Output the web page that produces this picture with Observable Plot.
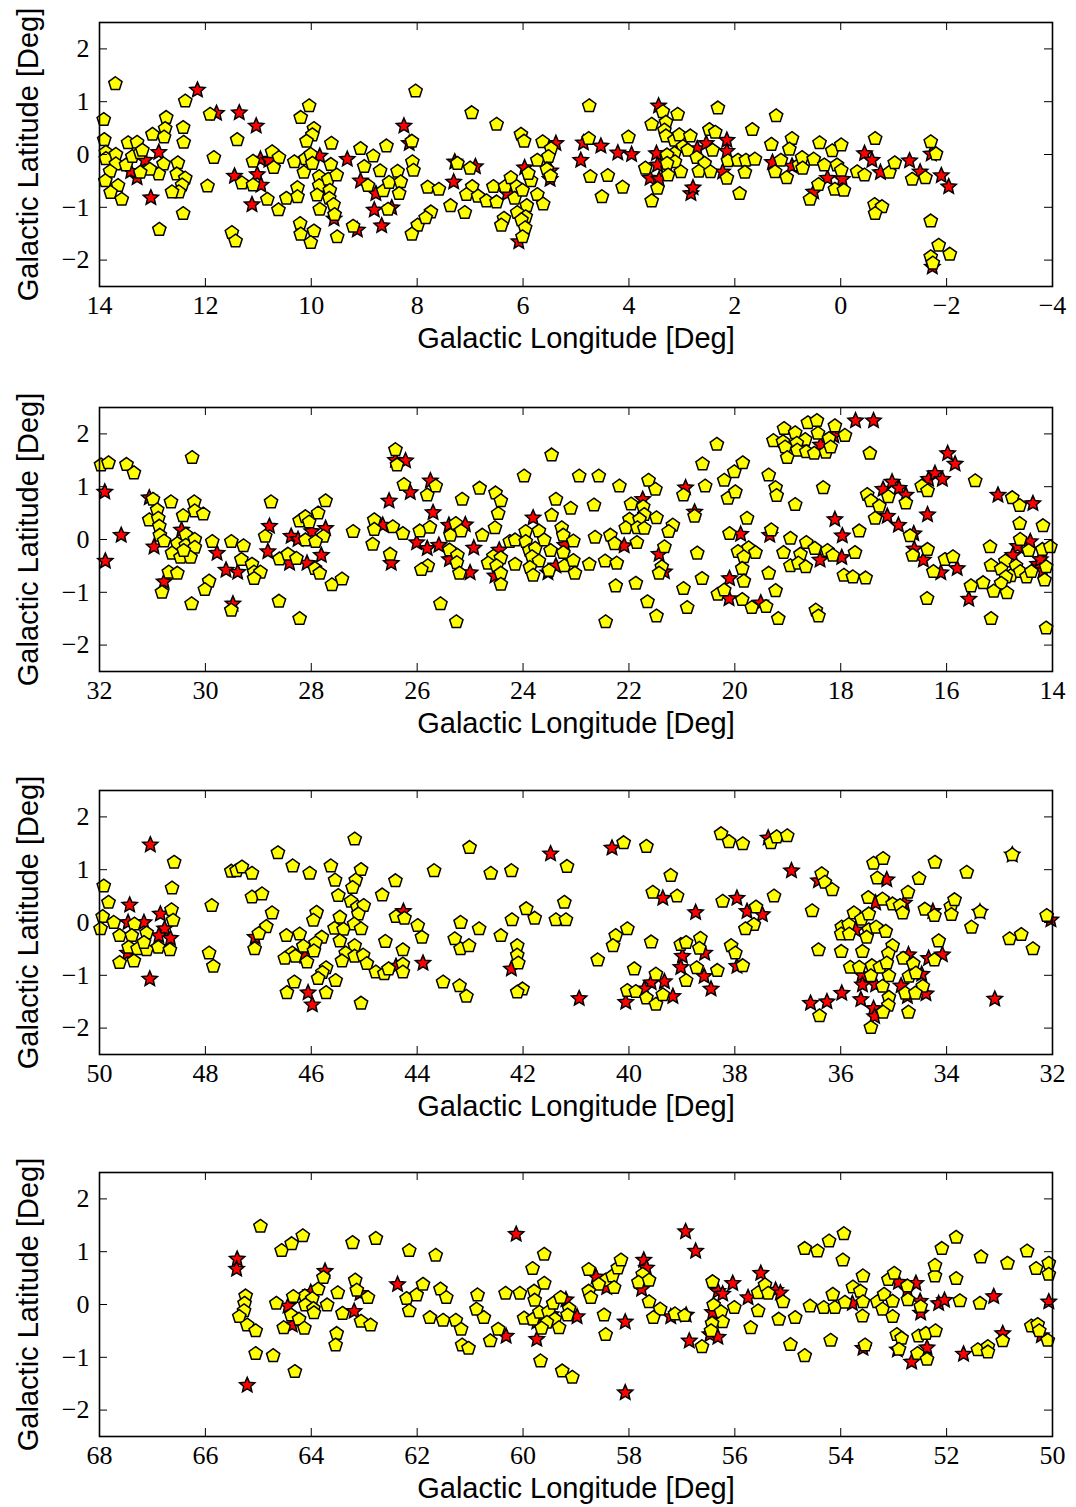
<!DOCTYPE html>
<html><head><meta charset="utf-8">
<script src="https://cdn.jsdelivr.net/npm/d3@7"></script>
<script src="https://cdn.jsdelivr.net/npm/@observablehq/plot@0.6"></script>
<style>
body{margin:0;background:#fff;}
#chart svg{display:block;}
</style></head><body><div id="chart"></div>
<script>
const xLabel = "Galactic Longitude [Deg]";
const yLabel = "Galactic Latitude [Deg]";
const yTicks = [-2, -1, 0, 1, 2];
const p1Domain = [14, -4], p2Domain = [32, 14], p3Domain = [50, 32], p4Domain = [68, 50];
const p1Ticks = [14, 12, 10, 8, 6, 4, 2, 0, -2, -4];
const p2Ticks = [32, 30, 28, 26, 24, 22, 20, 18, 16, 14];
const p3Ticks = [50, 48, 46, 44, 42, 40, 38, 36, 34, 32];
const p4Ticks = [68, 66, 64, 62, 60, 58, 56, 54, 52, 50];

// [longitude, latitude]
const p1Yellow = [[13.70,1.34],[12.38,1.01],[13.92,0.66],[11.91,0.76],[12.74,0.70],[12.76,0.49],[12.78,0.33],[13.00,0.38],[12.42,0.51],[12.41,0.23],[13.91,0.28],[13.46,0.22],[13.29,0.23],[13.88,0.04],[13.88,-0.08],[13.69,0.00],[13.69,-0.18],[13.50,-0.20],[13.38,-0.04],[13.23,0.03],[13.19,0.08],[12.79,-0.18],[12.88,-0.37],[13.05,-0.28],[13.23,-0.34],[13.80,-0.32],[13.89,-0.50],[13.65,-0.59],[13.79,-0.72],[13.58,-0.85],[12.52,-0.16],[12.54,-0.37],[12.38,-0.45],[12.44,-0.58],[12.50,-0.71],[12.63,-0.71],[12.42,-1.12],[12.87,-1.42],[11.84,-0.06],[11.96,-0.60],[11.40,0.28],[11.31,-0.54],[11.10,-0.13],[11.10,-0.58],[10.83,-0.85],[10.74,0.05],[10.61,-0.06],[10.71,-0.25],[10.62,-1.05],[10.47,-0.83],[10.26,-0.63],[10.26,-0.80],[11.50,-1.48],[11.43,-1.64],[10.32,-0.14],[10.14,-0.34],[10.11,-0.08],[10.01,0.00],[9.98,-0.17],[10.20,0.70],[10.04,0.92],[9.95,0.49],[9.98,0.37],[10.09,0.25],[9.85,-0.42],[9.85,-0.59],[9.68,-0.47],[9.65,-0.68],[9.66,-0.83],[9.89,-0.77],[9.84,-1.04],[9.58,-0.95],[9.56,-1.14],[9.63,-0.19],[9.62,0.21],[9.52,-0.39],[10.21,-1.31],[10.20,-1.51],[9.95,-1.45],[10.01,-1.67],[9.51,-1.56],[9.07,0.11],[8.83,-0.03],[9.00,-0.23],[8.58,0.16],[8.93,-0.59],[8.64,-0.69],[8.70,-0.31],[8.37,-0.32],[8.53,-0.53],[8.31,-0.52],[8.34,-0.74],[8.55,-1.04],[9.21,-1.36],[8.10,0.25],[8.09,-0.14],[8.07,-0.30],[7.99,-1.34],[8.10,-1.51],[8.03,1.20],
[6.97,0.79],[6.50,0.57],[4.75,0.92],[6.04,0.38],[5.98,0.25],[5.63,0.24],[5.47,0.11],[5.73,-0.11],[5.52,-0.04],[5.55,-0.28],[5.48,-0.41],[5.85,-0.50],[5.90,-0.36],[7.24,-0.17],[7.00,-0.26],[7.80,-0.62],[7.59,-0.66],[6.96,-0.61],[7.07,-0.76],[6.85,-0.79],[6.69,-0.88],[6.56,-0.61],[6.50,-0.90],[6.34,-0.61],[6.23,-0.44],[6.12,-0.61],[6.16,-0.83],[6.01,-0.68],[5.73,-0.76],[5.62,-0.94],[5.93,-0.97],[7.37,-0.97],[7.10,-1.10],[7.74,-1.09],[7.84,-1.20],[6.11,-1.10],[5.95,-1.18],[6.03,-1.24],[6.36,-1.21],[6.41,-1.34],[5.96,-1.39],[6.01,-1.56],[4.76,0.30],[4.73,-0.42],[4.40,-0.40],[4.51,-0.80],[4.12,-0.62],[4.01,0.33],[3.57,0.57],[3.36,0.81],[3.08,0.76],[3.30,0.61],[3.33,0.46],[3.30,0.35],[3.14,0.27],[3.05,0.37],[2.84,0.35],[2.98,0.15],[3.14,0.02],[3.28,-0.01],[3.13,-0.14],[3.28,-0.17],[3.69,-0.26],[3.26,-0.39],[3.02,-0.33],[3.46,-0.64],[3.57,-0.88],[2.89,0.08],[2.72,-0.06],[2.57,-0.17],[2.68,-0.32],[2.46,-0.33],[2.48,0.47],[2.37,0.42],[2.42,0.08],[2.32,0.88],[2.13,-0.12],[2.15,-0.45],[1.94,-0.11],[1.91,-0.74],
[1.22,0.73],[1.67,0.47],[1.31,0.19],[0.92,0.30],[0.97,0.10],[1.13,-0.11],[1.24,-0.33],[1.02,-0.44],[0.79,-0.20],[0.73,-0.06],[0.72,-0.26],[1.79,-0.11],[1.62,-0.09],[1.81,-0.34],[0.51,-0.09],[0.40,0.22],[0.31,-0.20],[0.16,0.07],[-0.01,0.18],[0.07,-0.20],[-0.01,-0.30],[0.11,-0.66],[-0.06,-0.68],[0.42,-0.57],[0.58,-0.85],[-0.31,-0.33],[-0.45,-0.39],[-0.65,0.30],[-0.92,-0.34],[-1.02,-0.16],[-0.64,-0.95],[-0.78,-0.99],[-0.65,-1.12],[-1.35,-0.47],[-1.60,-0.44],[-1.70,0.24],[-1.80,0.01],[-1.70,-1.26],[-1.85,-1.72],[-2.06,-1.89],[-1.70,-1.94],[-1.74,-2.06]];
const p1Red = [[12.15,1.22],[11.79,0.78],[11.36,0.79],[11.04,0.54],[13.14,-0.11],[12.88,0.04],[13.29,-0.44],[13.41,-0.32],[13.03,-0.82],[11.45,-0.41],[11.02,-0.38],[10.96,-0.09],[10.95,-0.58],[11.12,-0.95],[10.80,-0.11],[9.57,-1.22],[9.84,-0.03],[9.32,-0.09],[9.07,-0.50],[8.78,-0.74],[8.81,-1.05],[8.67,-1.35],[8.48,-1.01],[9.13,-1.43],[8.25,0.54],[8.15,0.21],
[5.38,0.21],[5.48,-0.31],[5.49,-0.47],[5.97,-0.25],[7.29,-0.14],[6.90,-0.23],[7.31,-0.52],[6.30,-0.74],[6.08,-1.65],[4.91,-0.11],[4.86,0.22],[4.53,0.16],[4.21,0.03],[3.95,0.00],[3.44,0.92],[3.48,0.02],[3.46,-0.20],[3.60,-0.45],[3.43,-0.47],[2.83,-0.74],[2.79,-0.63],[2.71,0.11],[2.54,0.21],[2.15,0.27],[2.15,0.06],[2.23,-0.33],
[1.29,-0.15],[0.92,-0.22],[0.25,-0.45],[-0.03,-0.47],[0.51,-0.71],[-0.45,0.02],[-0.59,-0.11],[-0.75,-0.34],[-1.30,-0.12],[-1.50,-0.33],[-1.71,0.01],[-1.90,-0.40],[-2.04,-0.61],[-1.73,-2.13]];

const p2Yellow = [[31.97,1.41],[31.83,1.45],[31.49,1.42],[31.35,1.26],[30.25,1.55],[30.99,0.76],[30.65,0.71],[30.91,0.56],[30.21,0.71],[30.20,0.54],[30.04,0.48],[30.42,0.45],[31.06,0.37],[30.89,0.40],[30.87,0.25],[30.86,0.08],[30.78,-0.03],[30.37,0.09],[30.53,-0.08],[30.37,-0.11],[30.20,0.00],[30.20,-0.15],[30.63,-0.26],[30.47,-0.34],[30.28,-0.34],[30.41,-0.21],[30.69,-0.62],[30.53,-0.64],[30.82,-1.00],[30.26,-1.22],[29.87,-0.04],[29.51,-0.04],[29.28,-0.12],[29.32,-0.38],[29.12,-0.47],[29.08,-0.62],[28.96,-0.62],[29.08,-0.74],[29.93,-0.79],[30.01,-0.95],[29.51,-1.34],[28.87,0.06],[28.76,0.71],[28.60,-0.37],[28.44,-0.28],[28.28,-0.36],[28.22,0.35],[28.11,-0.01],[28.11,0.43],[28.04,0.33],[27.87,0.50],[27.73,0.73],[27.77,0.06],[27.92,-0.04],[27.93,-0.55],[27.84,-0.64],[27.61,-0.86],[27.42,-0.75],[28.61,-1.17],[28.22,-1.50],[27.21,0.15],[26.81,0.37],[26.81,0.19],[26.84,-0.09],[26.46,0.24],[26.27,0.11],[26.51,-0.28],[26.41,1.70],[26.38,1.41],[26.25,1.04],
[25.65,1.01],[25.81,0.84],[25.15,0.76],[24.82,0.97],[24.52,0.88],[24.42,0.73],[24.47,0.49],[24.53,0.22],[23.98,1.20],[23.46,1.60],[23.38,0.76],[23.10,0.59],[23.46,0.46],[22.94,1.20],[22.57,1.20],[22.66,0.65],[22.18,1.01],[25.95,0.16],[25.76,0.23],[25.37,0.08],[25.27,0.30],[25.17,0.16],[25.39,-0.20],[25.24,-0.30],[25.25,-0.44],[25.20,-0.64],[25.80,-0.50],[25.92,-0.57],[25.56,-1.22],[25.26,-1.56],[24.77,0.08],[24.25,-0.04],[24.15,-0.01],[24.56,-0.32],[24.42,-0.35],[24.66,-0.45],[24.50,-0.50],[24.42,-0.64],[24.42,-0.85],[24.15,-0.47],[23.95,0.15],[23.70,0.16],[23.95,-0.04],[23.88,-0.21],[23.77,-0.17],[23.60,-0.01],[23.83,-0.33],[23.70,-0.41],[23.87,-0.53],[23.81,-0.68],[23.51,-0.59],[23.48,-0.21],[23.27,0.22],[23.24,0.08],[23.24,-0.25],[23.05,-0.03],[23.22,-0.50],[23.05,-0.40],[23.02,-0.64],[22.75,-0.47],[22.64,0.04],[22.45,-0.41],[22.35,0.08],[22.27,-0.08],[22.23,-0.45],[21.85,-0.06],[22.25,-0.88],[21.87,-0.83],[22.44,-1.56],[21.65,-1.18],[21.48,-1.45],[21.96,0.67],[21.73,0.62],[21.71,0.47],[21.99,0.38],[21.80,0.38],[22.06,0.22],[21.84,0.22],[21.71,0.21],[21.48,0.41],[21.63,1.12],[21.50,0.95],[21.17,0.27],[21.25,0.15],[21.33,-0.14],[21.38,-0.52],[21.43,-0.64],[20.97,0.84],[20.61,1.43],[20.34,1.80],[20.56,1.01],[20.76,0.44],[20.71,-0.26],[20.62,-0.74],[20.97,-0.93],[20.90,-1.29],[20.20,1.12],[20.01,1.28],[20.13,0.78],[20.10,0.11],[20.32,-1.04],[20.20,-0.96],
[19.85,1.45],[19.99,0.90],[19.27,1.87],[19.07,2.10],[18.62,2.21],[18.45,2.25],[18.11,2.15],[17.92,1.97],[19.09,1.85],[18.86,2.02],[18.67,1.89],[18.43,2.01],[18.22,1.91],[18.83,1.82],[19.05,1.75],[18.82,1.69],[18.65,1.66],[18.50,1.63],[18.28,1.65],[18.19,1.75],[19.01,1.55],[17.45,1.63],[19.36,1.22],[19.23,0.98],[19.21,0.83],[18.86,0.66],[18.33,0.98],[19.77,0.40],[19.31,0.18],[18.95,0.02],[19.08,-0.25],[18.76,-0.28],[18.65,-0.06],[18.49,-0.17],[18.95,-0.50],[18.80,-0.45],[18.66,-0.52],[18.25,-0.21],[18.15,-0.30],[17.73,-0.25],[17.65,0.16],[17.94,-0.68],[17.77,-0.71],[17.53,-0.73],[19.94,-0.23],[19.74,-0.16],[19.61,-0.25],[19.83,-0.33],[19.86,-0.55],[19.83,-0.79],[19.86,-1.14],[19.68,-1.29],[19.41,-1.27],[19.36,-0.64],[19.23,-0.97],[19.18,-1.50],[18.47,-1.34],[18.42,-1.45],[17.50,0.85],[17.43,0.73],[17.10,0.81],[16.77,0.69],[17.27,0.63],[17.35,0.40],[16.69,0.07],[16.47,1.01],[16.36,0.92],[15.46,1.11],[16.64,-0.30],[16.36,-0.19],[16.25,-0.61],[16.03,-0.38],[15.88,-0.33],[16.37,-1.12],[15.54,-0.88],[15.31,-0.82],[15.16,-1.50],[14.12,-1.68],[14.76,0.79],[14.62,0.64],[14.62,0.30],[14.18,0.26],[15.18,-0.14],[14.61,0.00],[14.45,-0.21],[14.19,-0.19],[14.04,-0.14],[14.89,-0.41],[15.16,-0.49],[14.97,-0.56],[14.69,-0.50],[14.79,-0.69],[14.88,-0.71],[14.97,-0.83],[15.11,-0.98],[14.86,-1.01],[14.61,-0.61],[14.49,-0.71],[14.40,-0.61],[14.12,-0.52],[14.15,-0.77]];
const p2Red = [[31.90,0.90],[31.59,0.08],[31.89,-0.41],[31.06,0.79],[30.97,-0.14],[30.45,0.18],[30.78,-0.80],[29.78,-0.26],[29.61,-0.58],[29.39,-0.62],[29.48,-1.22],[28.79,0.25],[28.82,-0.23],[28.41,-0.45],[28.38,0.06],[28.25,0.00],[27.99,0.15],[27.73,0.21],[28.08,-0.45],[27.81,-0.30],[26.65,0.27],[26.49,-0.45],[26.53,0.73],[26.41,1.50],[26.22,1.49],[26.13,0.89],[26.01,-0.06],
[25.75,1.11],[25.70,0.51],[25.81,-0.17],[25.59,-0.11],[25.09,0.28],[25.40,0.27],[24.93,-0.16],[25.39,-0.38],[25.00,-0.63],[24.45,-0.20],[24.53,-0.69],[23.81,0.41],[23.53,-0.63],[23.38,-0.50],[23.21,-0.11],[22.09,-0.12],[21.74,0.76],[21.43,-0.28],[21.33,-0.61],[20.93,0.98],[20.76,0.52],[20.10,-0.74],[20.11,-1.12],
[18.38,1.79],[18.13,1.96],[17.72,2.25],[17.38,2.25],[19.89,0.10],[19.34,0.08],[18.39,-0.39],[17.98,-0.34],[18.11,0.38],[17.97,0.07],[19.51,-1.20],[17.20,0.95],[17.03,1.09],[16.90,0.97],[16.77,0.84],[17.12,0.44],[16.91,0.27],[16.62,0.11],[16.34,1.14],[16.22,1.25],[16.08,1.14],[15.98,1.63],[15.84,1.43],[16.36,0.47],[16.61,-0.18],[16.44,-0.39],[16.11,-0.63],[15.80,-0.55],[15.58,-1.13],[15.03,0.84],[14.37,0.68],[14.66,-0.13],[14.42,-0.04],[14.75,-0.30],[14.28,-0.47],[14.18,-0.59],[14.23,-0.38]];

const p3Yellow = [[48.59,1.14],[48.63,0.65],[49.92,0.69],[49.83,0.38],[48.64,0.24],[48.61,0.04],[49.94,0.11],[49.98,-0.12],[49.73,0.00],[49.34,-0.03],[49.62,-0.25],[49.39,-0.25],[49.11,-0.20],[49.45,-0.47],[49.28,-0.50],[49.11,-0.52],[48.89,-0.47],[48.67,-0.52],[49.16,-0.38],[49.62,-0.76],[49.35,-0.73],[47.88,0.32],[47.93,-0.58],[47.85,-0.83],[47.51,0.97],[47.41,0.98],[47.31,1.05],[47.12,0.93],[47.12,0.48],[46.93,0.54],[46.74,0.18],[46.85,-0.08],[46.99,-0.21],[47.07,-0.50],[46.63,1.32],[46.35,1.07],[46.03,0.93],[45.63,1.07],[45.55,0.80],[45.18,1.58],[45.06,1.00],[45.16,0.80],[45.22,0.66],[45.49,0.51],[45.25,0.40],[45.13,0.29],[45.01,0.32],[45.11,0.16],[44.66,0.52],[44.41,0.79],[45.90,0.19],[45.96,0.04],[45.46,0.10],[45.56,-0.11],[45.39,-0.13],[45.19,-0.03],[45.06,-0.12],[46.47,-0.25],[46.22,-0.22],[45.80,-0.28],[45.92,-0.39],[46.15,-0.45],[45.95,-0.54],[46.36,-0.58],[46.50,-0.68],[46.30,-0.64],[46.08,-0.75],[45.46,-0.35],[45.18,-0.44],[45.35,-0.58],[45.18,-0.64],[45.02,-0.62],[45.42,-0.73],[44.95,-0.78],[44.78,-0.94],[44.62,-0.97],[44.54,-0.88],[44.60,-0.36],[44.27,-0.52],[44.27,-0.79],[44.27,-0.94],[44.40,0.11],[44.24,0.08],[43.99,-0.06],[45.72,-0.86],[45.79,-0.95],[45.87,-1.06],[45.54,-1.10],[45.72,-1.33],[46.32,-1.13],[46.46,-1.33],[45.06,-1.53],
[43.91,-0.28],[43.68,0.98],[43.01,1.42],[42.61,0.93],[42.22,0.98],[41.17,1.06],[40.10,1.51],[39.67,1.44],[38.26,1.68],[38.11,1.53],[39.21,0.89],[39.55,0.57],[39.09,0.50],[38.23,0.40],[43.18,0.00],[42.83,-0.12],[43.29,-0.31],[43.18,-0.50],[43.02,-0.44],[42.42,-0.25],[42.21,0.05],[41.94,0.26],[41.78,0.08],[41.22,0.38],[41.38,0.05],[41.19,0.05],[42.11,-0.44],[42.11,-0.62],[42.09,-0.77],[43.51,-1.13],[43.20,-1.20],[43.07,-1.40],[42.01,-1.26],[42.11,-1.32],[40.03,-0.12],[40.25,-0.25],[40.30,-0.44],[40.59,-0.71],[39.58,-0.37],[39.90,-0.88],[39.49,-0.98],[40.03,-1.29],[39.87,-1.31],[39.67,-1.43],[39.49,-1.55],[39.36,-1.37],[39.02,-0.42],[38.92,-0.38],[38.65,-0.30],[38.67,-0.49],[38.72,-0.86],[38.92,-1.10],[38.33,-0.91],[38.07,-0.44],[37.99,-0.58],
[37.85,1.49],[37.32,1.51],[37.21,1.62],[37.01,1.64],[36.36,0.92],[36.30,0.76],[36.16,0.62],[37.26,0.50],[37.60,0.29],[37.64,-0.04],[37.80,-0.12],[37.85,-0.82],[36.54,0.22],[36.42,-0.52],[35.99,-0.55],[35.38,1.12],[35.20,1.21],[35.31,0.84],[35.48,0.47],[35.21,0.44],[35.02,0.35],[34.88,0.32],[34.83,0.18],[34.73,0.57],[34.52,0.83],[34.22,1.14],[33.62,0.95],[32.76,1.28],[35.75,0.18],[35.61,0.06],[35.47,0.16],[35.98,-0.09],[35.85,-0.04],[35.99,-0.22],[35.84,-0.22],[35.47,-0.14],[35.33,-0.09],[35.15,-0.17],[35.51,-0.28],[34.41,0.25],[34.23,0.13],[33.92,0.30],[33.85,0.43],[33.91,0.15],[33.37,0.20],[33.53,-0.09],[32.81,-0.31],[32.59,-0.23],[32.37,-0.50],[32.11,0.13],[35.59,-0.55],[35.02,-0.44],[35.10,-0.59],[34.82,-0.68],[34.63,-0.78],[34.15,-0.35],[34.23,-0.71],[35.82,-0.85],[35.65,-0.85],[35.41,-0.82],[35.26,-0.85],[35.13,-0.77],[35.43,-1.01],[35.09,-1.01],[35.21,-1.21],[34.71,-1.02],[34.58,-0.96],[34.45,-1.21],[34.78,-1.34],[34.59,-1.34],[35.09,-1.42],[35.10,-1.57],[35.20,-1.70],[34.72,-1.70],[35.43,-1.99],[36.40,-1.77]];
const p3Red = [[49.04,1.47],[49.43,0.33],[48.85,0.16],[49.46,0.00],[49.16,0.00],[48.77,-0.12],[48.88,-0.25],[48.66,-0.30],[49.47,-0.58],[49.05,-1.07],[47.06,-0.28],[46.12,-0.64],[44.40,-0.83],[44.26,0.21],[46.06,-1.33],[45.98,-1.56],
[43.89,-0.77],[41.48,1.30],[40.32,1.41],[39.36,0.46],[38.74,0.19],[37.96,0.46],[42.22,-0.88],[40.94,-1.44],[39.33,-1.12],[39.58,-1.14],[40.06,-1.51],[39.71,-1.26],[39.17,-1.40],[38.57,-0.58],[38.99,-0.64],[39.02,-0.85],[38.58,-1.02],[38.45,-1.26],[37.96,-0.83],
[37.37,1.60],[36.93,0.98],[36.42,0.79],[37.77,0.21],[37.48,0.15],[35.13,0.81],[35.34,0.37],[34.80,0.37],[32.76,1.28],[34.26,0.21],[33.37,0.20],[32.03,0.05],[35.72,-0.14],[34.72,-0.61],[34.34,-0.68],[34.08,-0.61],[35.60,-0.99],[35.59,-1.18],[35.34,-1.18],[34.86,-1.20],[34.47,-0.98],[34.39,-1.35],[34.74,-1.40],[35.62,-1.46],[35.38,-1.63],[35.36,-1.78],[36.57,-1.53],[36.26,-1.50],[35.98,-1.34],[33.09,-1.45]];

const p4Yellow = [[64.96,1.48],[64.56,1.02],[64.37,1.15],[64.16,1.30],[63.22,1.17],[62.78,1.25],[62.15,1.02],[63.77,0.51],[63.17,0.46],[63.14,0.27],[62.93,0.13],[63.50,0.22],[63.87,0.29],[64.12,0.16],[63.98,0.11],[64.34,0.15],[65.24,0.16],[65.26,0.02],[65.27,-0.12],[65.36,-0.23],[65.21,-0.39],[65.05,-0.50],[64.66,0.02],[64.38,-0.20],[64.52,-0.44],[64.23,-0.28],[64.13,-0.45],[64.11,-0.01],[63.96,-0.08],[63.95,-0.16],[63.70,-0.01],[63.41,-0.17],[63.06,-0.32],[62.88,-0.39],[62.20,0.11],[62.15,-0.12],[62.01,0.18],[63.52,-0.55],[63.54,-0.77],[65.05,-0.93],[64.72,-0.97],[64.31,-1.27],
[61.65,0.93],[59.60,0.95],[59.82,0.68],[59.60,0.40],[61.89,0.38],[61.56,0.29],[61.45,0.13],[61.76,-0.25],[61.51,-0.30],[61.27,-0.30],[61.17,-0.47],[61.15,-0.77],[61.03,-0.83],[60.86,0.18],[60.88,-0.09],[60.74,-0.25],[60.62,-0.69],[60.47,-0.47],[60.33,0.21],[60.06,0.21],[59.79,0.25],[59.78,0.08],[59.98,-0.26],[59.81,-0.28],[59.69,-0.15],[59.52,-0.14],[59.43,0.02],[59.29,0.13],[59.13,-0.08],[59.16,-0.20],[59.40,-0.28],[59.55,-0.34],[59.32,-0.44],[59.65,-0.45],[59.67,-1.07],[59.26,-1.26],[59.07,-1.38],[58.76,0.66],[58.44,0.46],[58.31,0.54],[58.21,0.69],[58.15,0.84],[58.57,0.38],[58.28,0.32],[58.76,0.25],[58.72,0.13],[58.47,-0.20],[58.44,-0.57],[57.74,0.57],[57.82,0.42],[57.62,0.46],[57.62,0.05],[57.41,-0.09],[57.54,-0.25],[57.13,-0.18],[56.95,-0.21],[56.62,-0.80],[56.42,0.43],[56.01,-0.06],[56.40,-0.01],[56.26,-0.14],[56.23,-0.33],[56.43,-0.36],[56.45,-0.50],
[55.56,0.22],[55.43,0.37],[55.37,0.21],[55.09,0.05],[55.56,-0.12],[55.70,-0.44],[55.17,-0.28],[54.86,-0.25],[54.95,-0.76],[54.68,-0.97],[54.68,1.06],[54.44,1.01],[54.22,1.20],[53.94,1.34],[53.96,0.84],[54.58,-0.03],[54.32,-0.06],[54.11,-0.06],[54.15,0.19],[53.92,0.04],[53.77,0.33],[53.63,0.25],[53.58,0.54],[53.58,0.05],[53.59,-0.22],[54.19,-0.68],[53.54,-0.77],[53.31,0.05],[53.18,0.19],[53.21,-0.09],[53.02,0.06],[53.02,-0.23],[53.10,0.47],[52.99,0.59],[52.74,0.35],[52.73,0.09],[52.49,-0.04],[52.22,0.54],[52.22,0.74],[52.09,1.06],[51.82,1.27],[51.82,0.49],[51.75,0.07],[51.35,0.90],[51.37,0.02],[50.85,0.78],[50.48,1.01],[50.31,0.68],[50.07,0.78],[50.07,0.57],[52.94,-0.57],[52.85,-0.64],[52.90,-0.85],[52.53,-0.60],[52.39,-0.55],[52.21,-0.50],[52.55,-0.93],[52.37,-1.04],[51.41,-0.86],[51.22,-0.80],[51.22,-0.90],[50.94,-0.69],[50.40,-0.41],[50.28,-0.38],[50.25,-0.50],[50.09,-0.68]];
const p4Red = [[65.40,0.86],[65.41,0.67],[63.74,0.63],[63.08,0.21],[64.01,0.23],[64.44,-0.03],[64.36,-0.39],[63.19,-0.13],[62.37,0.38],[65.21,-1.53],
[60.13,1.33],[60.32,-0.60],[59.74,-0.33],[59.47,-0.19],[59.19,0.09],[58.98,-0.23],[59.74,-0.66],[58.62,0.52],[58.42,0.32],[58.07,-0.33],[58.07,-1.67],[57.72,0.84],[57.67,0.69],[57.76,0.29],[57.21,-0.23],[56.92,-0.20],[56.93,1.38],[56.74,1.01],[56.86,-0.69],[56.32,0.25],[56.23,0.20],[56.04,0.40],[56.42,-0.15],[56.47,-0.57],[56.32,-0.62],
[55.51,0.59],[55.75,0.13],[55.23,0.27],[55.14,0.22],[53.78,0.02],[53.58,-0.83],[52.91,0.42],[52.74,0.27],[52.58,0.40],[52.50,0.06],[52.49,-0.16],[52.15,0.02],[52.04,0.08],[51.11,0.15],[50.07,0.05],[52.93,-0.86],[52.37,-0.82],[52.66,-1.09],[51.68,-0.94],[50.94,-0.55],[50.21,-0.59]];

const pentagon = {
  draw(ctx, size) {
    const r = Math.sqrt(size / Math.PI);
    for (let i = 0; i < 5; i++) {
      const a = -Math.PI / 2 + i * 2 * Math.PI / 5;
      const x = r * Math.cos(a), y = r * Math.sin(a);
      if (i) ctx.lineTo(x, y); else ctx.moveTo(x, y);
    }
    ctx.closePath();
  }
};
const star5 = {
  draw(ctx, size) {
    const R = Math.sqrt(size / Math.PI), r = R * 0.46;
    for (let i = 0; i < 10; i++) {
      const a = -Math.PI / 2 + i * Math.PI / 5;
      const rr = i % 2 ? r : R;
      const x = rr * Math.cos(a), y = rr * Math.sin(a);
      if (i) ctx.lineTo(x, y); else ctx.moveTo(x, y);
    }
    ctx.closePath();
  }
};

const fmt = d => d < 0 ? "\u2212" + Math.abs(d) : String(d);
const serif = "'Liberation Serif', 'Times New Roman', serif";
const sans = "'Liberation Sans', Arial, sans-serif";

const panels = [
  {domain: p1Domain, ticks: p1Ticks, yellow: p1Yellow, red: p1Red, height: 385},
  {domain: p2Domain, ticks: p2Ticks, yellow: p2Yellow, red: p2Red, height: 383},
  {domain: p3Domain, ticks: p3Ticks, yellow: p3Yellow, red: p3Red, height: 382},
  {domain: p4Domain, ticks: p4Ticks, yellow: p4Yellow, red: p4Red, height: 357}
];

const W = 1076, mL = 99, mR = 24, mT = 22, FH = 264, FW = W - mL - mR, TL = 8;
const root = document.getElementById("chart");
for (const p of panels) {
  const svg = Plot.plot({
    width: W, height: p.height,
    marginLeft: mL, marginRight: mR, marginTop: mT, marginBottom: p.height - mT - FH,
    style: {background: "white", color: "black", overflow: "visible"},
    x: {domain: p.domain},
    y: {domain: [-2.5, 2.5]},
    marks: [
      Plot.dot(p.red, {x: d => d[0], y: d => d[1], symbol: star5, r: 8, fill: "#ff0000", stroke: "black", strokeWidth: 1.5}),
      Plot.dot(p.yellow, {x: d => d[0], y: d => d[1], symbol: pentagon, r: 7, fill: "#ffff00", stroke: "black", strokeWidth: 1.5}),
      Plot.ruleX(p.ticks, {x: d => d, insetTop: FH - TL, stroke: "black"}),
      Plot.ruleX(p.ticks, {x: d => d, insetBottom: FH - TL, stroke: "black"}),
      Plot.ruleY(yTicks, {y: d => d, insetRight: FW - TL, stroke: "black"}),
      Plot.ruleY(yTicks, {y: d => d, insetLeft: FW - TL, stroke: "black"}),
      Plot.frame({stroke: "black", strokeWidth: 1.6}),
      Plot.axisX({ticks: p.ticks, tickSize: 0, tickPadding: 9, tickFormat: fmt, label: null, fontSize: 26, fontFamily: serif, fill: "black"}),
      Plot.axisY({ticks: yTicks, tickSize: 0, tickPadding: 10, tickFormat: fmt, label: null, fontSize: 26, fontFamily: serif, fill: "black"}),
      Plot.text([xLabel], {text: d => d, frameAnchor: "bottom", textAnchor: "middle", lineAnchor: "middle", dy: 52, fontSize: 29, fontFamily: sans, fill: "black"}),
      Plot.text([yLabel], {text: d => d, frameAnchor: "left", textAnchor: "middle", lineAnchor: "middle", rotate: -90, dx: -71, fontSize: 29, fontFamily: sans, fill: "black"})
    ]
  });
  root.appendChild(svg);
}
</script>
</body></html>
